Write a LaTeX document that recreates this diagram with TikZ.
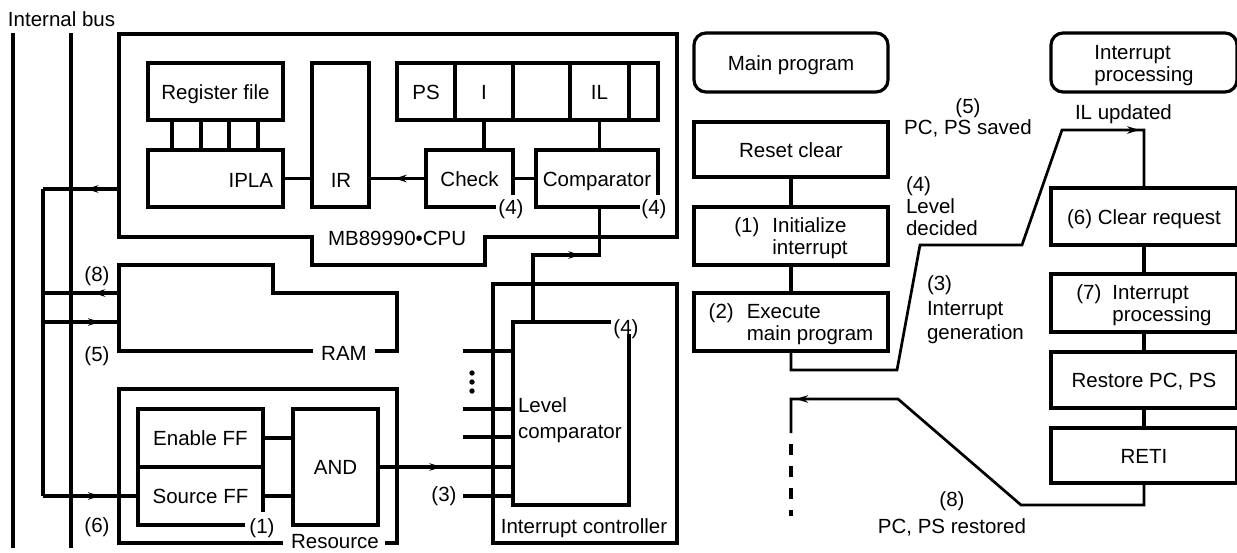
\documentclass[tikz,border=0pt]{standalone}
\usepackage{fontspec}
\setmainfont{Liberation Sans}
\usetikzlibrary{arrows.meta,decorations.markings,calc}
\newcommand\diagfont{\fontsize{20.5}{22}\selectfont}
\newcommand\mylines[2][22]{{\fontsize{20.5}{#1}\selectfont\begin{tabular}[t]{@{}l@{}}#2\end{tabular}}}
\newcommand\mycent[2][22]{{\fontsize{20.5}{#1}\selectfont\begin{tabular}[t]{@{}c@{}}#2\end{tabular}}}
\newcommand\steptext[4][13pt]{{\fontsize{20.5}{22}\selectfont\begin{tabular}[t]{@{}l@{\hspace{#1}}l@{}}#2&#3\\&#4\end{tabular}}}
\begin{document}
\begin{tikzpicture}[x=1pt,y=-1pt,
  every node/.style={font=\diagfont, inner sep=0pt, outer sep=0pt, text height=15pt, text depth=0pt},
  ln/.style={line width=3.2pt},
  fl/.style={line width=2.7pt},
  bx/.style 2 args={draw, line width=3.2pt, rectangle, minimum width=#1pt, minimum height=#2pt},
  rbx/.style 2 args={bx={#1}{#2}, rounded corners=12pt},
  zone/.style 2 args={rectangle, minimum width=#1pt, minimum height=#2pt},
  two/.style={text depth=22pt},
  marr/.style={postaction={decorate,decoration={markings,mark=at position #1 with {\arrow{Stealth[length=12pt,width=7.5pt]}}}}},
]
\useasboundingbox (0,0) rectangle (1237,552);

% ---------- internal bus ----------
\draw[ln] (13,33) -- (13,548);
\draw[ln] (71,33) -- (71,548);
\node[anchor=base west] (busl) at (8,26) {Internal bus};

% ---------- CPU ----------
\draw[ln] (119,34) -- (677,34) -- (677,237) -- (485,237) -- (485,265) -- (312,265) -- (312,237) -- (119,237) -- cycle;
\node[anchor=base west] (cpul) at (328,245) {MB89990•CPU};

\node[bx={135}{57}] (reg) at (215.5,91.5) {Register file};
\node[bx={135}{57}] (ipla) at (215.5,178.5) {};
\node[anchor=base east] (iplat) at (273,187) {IPLA};
\node[bx={57}{144}] (ir) at (340.5,135) {};
\node[anchor=base] (irt) at (341,187) {IR};

\node[bx={58}{57}] (cps) at (426,91.5) {PS};
\node[bx={58}{57}] (ci) at (484,91.5) {I};
\node[bx={57}{57}] (ce) at (541.5,91.5) {};
\node[bx={59}{57}] (cil) at (599.5,91.5) {IL};
\node[bx={29}{57}] (cx) at (643.5,91.5) {};

\node[zone={87}{57}] (check) at (469.5,178.5) {Check};
\draw[ln] (513,195) -- (513,150) -- (426,150) -- (426,207) -- (496,207);
\node[anchor=base] (chk4) at (511,214) {(4)};
\node[zone={122}{57}] (comp) at (597,178.5) {Comparator};
\draw[ln] (658,195) -- (658,150) -- (536,150) -- (536,207) -- (640,207);
\node[anchor=base] (cmp4) at (654,214) {(4)};

\foreach \d in {24,53,81,110}
  \draw[ln] ([xshift=\d pt]reg.south west) -- ([xshift=\d pt]ipla.north west);
\draw[ln] (ipla.east) -- (ipla.east -| ir.west);
\draw[ln, marr=0.55] (check.west) -- (check.west -| ir.east);
\draw[ln] (ci.south) -- (ci.south |- check.north);
\draw[ln] (cil.south) -- (cil.south |- comp.north);
\draw[ln] (check.east) -- (comp.west);

% ---------- interrupt controller ----------
\node[bx={184}{259}] (ic) at (585,413.5) {};
\node[anchor=base] (ict) at (584,533) {Interrupt controller};
\node[zone={116}{183}] (lvl) at (571,413.5) {};
\draw[ln] (611,322) -- (513,322) -- (513,505) -- (629,505) -- (629,334);
\node[anchor=base] (lvl4) at (626,334) {(4)};
\node[anchor=base west] (lvlt) at (518,412) {\mylines[26]{Level\\comparator}};
\draw[ln, marr=0.63] ([xshift=20pt]lvl.north west) -- ++(0,-67) -| (cil.south |- comp.south);

\foreach \n/\yy in {1/351,2/409,3/437,4/496} {
  \coordinate (in\n) at (463,\yy);
  \draw[ln] (in\n) -- (in\n -| lvl.west);
}
\foreach \yy in {373,382,391} \fill (472,\yy) circle (2.7pt);
\node[anchor=base] (ic3) at (444,501) {(3)};

% ---------- RAM ----------
\draw[ln] (375,351) -- (397,351) -- (397,293) -- (273,293) -- (273,265) -- (119,265) -- (119,351) -- (313,351);
\node[anchor=base] (ramt) at (344,360) {RAM};
\coordinate (ramA) at (119,293);
\coordinate (ramB) at (119,322);

% ---------- resource ----------
\draw[ln] (385,543) -- (397,543) -- (397,389) -- (119,389) -- (119,543) -- (283,543);
\node[anchor=base] (rest) at (335,548) {Resource};
\node[zone={125}{58}] (enff) at (200.5,438) {Enable FF};
\node[zone={125}{58}] (srcff) at (200.5,496) {Source FF};
\draw[ln] (263,512) -- (263,409) -- (138,409) -- (138,525) -- (245,525);
\draw[ln] (enff.south west) -- (enff.south east);
\node[anchor=base] (res1) at (262,533) {(1)};
\node[bx={85}{116}] (and) at (335.5,467) {AND};
\draw[ln] (enff.east) -- (enff.east -| and.west);
\draw[ln] (srcff.east) -- (srcff.east -| and.west);
\draw[ln, marr=0.47] (and.east) -- (and.east -| lvl.west);

% ---------- bus spine ----------
\coordinate (cpuL) at (119,189);
\coordinate (sp1) at (43,189);
\coordinate (sp2) at (43,496);
\draw[ln, marr=0.43] (cpuL) -- (sp1);
\draw[ln] (sp1) -- (sp2);
\draw[ln, marr=0.34] (ramA) -- (ramA -| sp1);
\draw[ln, marr=0.75] (ramB -| sp1) -- (ramB);
\draw[ln, marr=0.6] (sp2) -- (srcff.west);
\node[anchor=base] (l8) at (97,281) {(8)};
\node[anchor=base] (l5) at (97,361) {(5)};
\node[anchor=base] (l6) at (97,532) {(6)};

% ---------- main program flow ----------
\node[rbx={194}{59}] (mp) at (791,62.5) {Main program};
\node[bx={194}{55}] (rst) at (791,149.5) {Reset clear};
\node[bx={194}{58}, two] (init) at (791,236) {\steptext{(1)}{Initialize}{interrupt}};
\node[bx={194}{58}, two] (exec) at (791,322) {\steptext{(2)}{Execute}{main program}};
\draw[ln] (rst) -- (init);
\draw[ln] (init) -- (exec);

% ---------- interrupt processing flow ----------
\node[rbx={186}{59}, two] (ip) at (1144,62.5) {\mylines{Interrupt\\processing}};
\node[bx={186}{57}] (clr) at (1144,216.5) {(6) Clear request};
\node[bx={186}{58}, two] (ipr) at (1144,303) {\steptext[11pt]{(7)}{Interrupt}{processing}};
\node[bx={186}{56}] (rpc) at (1144,380) {Restore PC, PS};
\node[bx={186}{55}] (reti) at (1144,455.5) {RETI};
\draw[ln] (clr) -- (ipr);
\draw[ln] (ipr) -- (rpc);
\draw[ln] (rpc) -- (reti);

\coordinate (p1) at (897,370);
\coordinate (p2) at (920,245);
\coordinate (p3) at (1022,245);
\coordinate (p4) at (1062,130);
\draw[fl, marr=0.898] (exec.south) |- (p1) -- (p2) -- (p3) -- (p4) -- (p4 -| clr.north) -- (clr.north);

\coordinate (q1) at (1021,505);
\coordinate (q2) at (898,399);
\coordinate (q3) at (791,433);
\coordinate (q4) at (791,516);
\draw[fl, marr=0.913] (reti.south) |- (q1) -- (q2) -- (q2 -| q3) -- (q3);
\draw[ln, dash pattern=on 11pt off 11pt, dash phase=11pt] (q3) -- (q4);

% ---------- flow labels ----------
\node[anchor=base] (f5) at (968,113.5) {\mycent[21]{(5)\\PC, PS saved}};
\node[anchor=base west] (fil) at (1075,119.5) {IL updated};
\node[anchor=base west] (f4) at (906,191.5) {\mylines[22]{(4)\\Level\\decided}};
\node[anchor=base west] (f3) at (927,290.5) {\mylines[24.5]{(3)\\Interrupt\\generation}};
\node[anchor=base] (f8) at (952,506) {\mycent[27]{(8)\\PC, PS restored}};
\end{tikzpicture}
\end{document}
